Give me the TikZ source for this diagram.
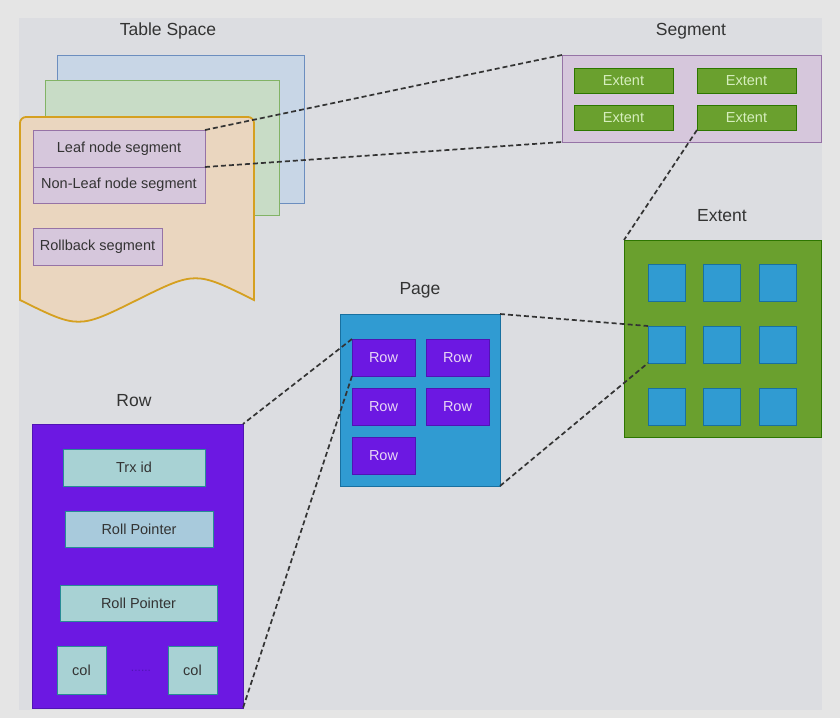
\documentclass[tikz,border=0pt]{standalone}
\usepackage{fontspec}
\setmainfont{Liberation Sans}
\usepackage{xcolor}
\usepackage{tikz}
\usetikzlibrary{positioning,calc}
\definecolor{outerbg}{RGB}{229,229,229}
\definecolor{innerbg}{RGB}{220,221,225}
\definecolor{titlegray}{RGB}{51,51,51}
\definecolor{segfill}{RGB}{214,199,220}
\definecolor{segdraw}{RGB}{150,115,166}
\definecolor{sheetblue}{RGB}{200,214,230}
\definecolor{sheetbluedraw}{RGB}{108,142,191}
\definecolor{sheetgreen}{RGB}{200,220,198}
\definecolor{sheetgreendraw}{RGB}{130,179,102}
\definecolor{docfill}{RGB}{234,214,191}
\definecolor{docdraw}{RGB}{213,160,32}
\definecolor{extgreen}{RGB}{106,160,46}
\definecolor{extdraw}{RGB}{45,118,0}
\definecolor{exttext}{RGB}{214,238,190}
\definecolor{pageblue}{RGB}{48,155,210}
\definecolor{pagedraw}{RGB}{24,112,160}
\definecolor{rowpurple}{RGB}{108,24,226}
\definecolor{rowdraw}{RGB}{80,20,180}
\definecolor{rowtext}{RGB}{232,214,245}
\definecolor{fieldteal}{RGB}{168,210,212}
\definecolor{fieldblue}{RGB}{168,202,220}
\definecolor{fielddraw}{RGB}{40,140,150}

\begin{document}
\begin{tikzpicture}[x=1pt, y=-1pt,
    every node/.style={inner sep=0, outer sep=0},
    title/.style={font=\fontsize{17.5}{20}\selectfont, text=titlegray},
    segbox/.style={draw=segdraw, fill=segfill, line width=0.8pt, anchor=north west,
      font=\fontsize{14.5}{16}\selectfont, text=titlegray},
    extbox/.style={draw=extdraw, fill=extgreen, line width=0.8pt, anchor=north west,
      minimum width=99, minimum height=25, font=\fontsize{14.5}{16}\selectfont, text=exttext},
    cell/.style={draw=pagedraw, fill=pageblue, line width=0.8pt, anchor=north west,
      minimum width=37, minimum height=37},
    rowbox/.style={draw=rowdraw, fill=rowpurple, line width=0.8pt, anchor=north west,
      minimum width=63, minimum height=37, font=\fontsize{14.5}{16}\selectfont, text=rowtext},
    field/.style={draw=fielddraw, fill=fieldteal, line width=0.8pt, anchor=north west,
      font=\fontsize{14.5}{16}\selectfont, text=titlegray},
    link/.style={dash pattern=on 5pt off 3pt, line width=1.7pt, draw=titlegray}]

  % background
  \fill[outerbg] (0,0) rectangle (840,718);
  \fill[innerbg] (19,18) rectangle (822,710);

  % table space
  \node[title] (tstitle) at (168,31) {Table Space};
  \draw[draw=sheetbluedraw, fill=sheetblue, line width=0.8pt] (57,55) rectangle (304,203);
  \draw[draw=sheetgreendraw, fill=sheetgreen, line width=0.8pt] (45,80) rectangle (279,215);
  \draw[draw=docdraw, fill=docfill, line width=1.8pt]
    (20,300) -- (20,123) arc[start angle=180, end angle=270, radius=6]
    -- (248,117) arc[start angle=270, end angle=360, radius=6]
    -- (254,300) .. controls (195.5,271) .. (137,300) .. controls (78.5,329) .. (20,300) -- cycle;
  \node[segbox, minimum width=172, minimum height=37] (leaf) at (33,130) {Leaf node segment};
  \node[segbox, minimum width=172, minimum height=36] (nonleaf) at (33,167) {Non-Leaf node segment};
  \node[segbox, minimum width=129, minimum height=37] (rollback) at (33,228) {Rollback segment};

  % segment
  \node[title] (segtitle) at (691,31) {Segment};
  \node[draw=segdraw, fill=segfill, line width=0.8pt, anchor=north west,
    minimum width=259, minimum height=87] (segment) at (562,55) {};
  \node[extbox] (ext11) at (574,68) {Extent};
  \node[extbox] (ext12) at (697,68) {Extent};
  \node[extbox] (ext21) at (574,105) {Extent};
  \node[extbox] (ext22) at (697,105) {Extent};

  % extent
  \node[title] (exttitle) at (722,216) {Extent};
  \node[draw=extdraw, fill=extgreen, line width=0.8pt, anchor=north west,
    minimum width=197, minimum height=197] (extent) at (624,240) {};
  \foreach \r/\y in {1/264, 2/326, 3/388}
    \foreach \c/\x in {1/648, 2/703, 3/759}
      \node[cell] (cell\r\c) at (\x,\y) {};

  % page
  \node[title] (pagetitle) at (420,290) {Page};
  \node[draw=pagedraw, fill=pageblue, line width=0.8pt, anchor=north west,
    minimum width=160, minimum height=172] (page) at (340,314) {};
  \node[rowbox] (row11) at (352,339) {Row};
  \node[rowbox] (row12) at (426,339) {Row};
  \node[rowbox] (row21) at (352,388) {Row};
  \node[rowbox] (row22) at (426,388) {Row};
  \node[rowbox] (row31) at (352,437) {Row};

  % row
  \node[title] (rowtitle) at (134,401) {Row};
  \node[draw=rowdraw, fill=rowpurple, line width=0.8pt, anchor=north west,
    minimum width=211, minimum height=284] (row) at (32,424) {};
  \node[field, minimum width=142, minimum height=37] (trx) at (63,449) {Trx id};
  \node[field, fill=fieldblue, minimum width=148, minimum height=36] (rollptr) at (65,511) {Roll Pointer};
  \node[field, minimum width=157, minimum height=36] (rollptrb) at (60,585) {Roll Pointer};
  \node[field, minimum width=49, minimum height=48] (cola) at (57,646) {col};
  \node[field, minimum width=49, minimum height=48] (colb) at (168,646) {col};
  \node[font=\fontsize{12}{14}\selectfont, text=rowdraw] (dots) at (141,671) {......};

  % connectors
  \draw[link] (leaf.north east) -- (segment.north west);
  \draw[link] (leaf.south east) -- (segment.south west);
  \draw[link] (ext22.south west) -- (extent.north west);
  \draw[link] (page.north east) -- (cell21.north west);
  \draw[link] (page.south east) -- (cell21.south west);
  \draw[link] (row11.north west) -- (row.north east);
  \draw[link] (row11.south west) -- (row.south east);
\end{tikzpicture}
\end{document}
